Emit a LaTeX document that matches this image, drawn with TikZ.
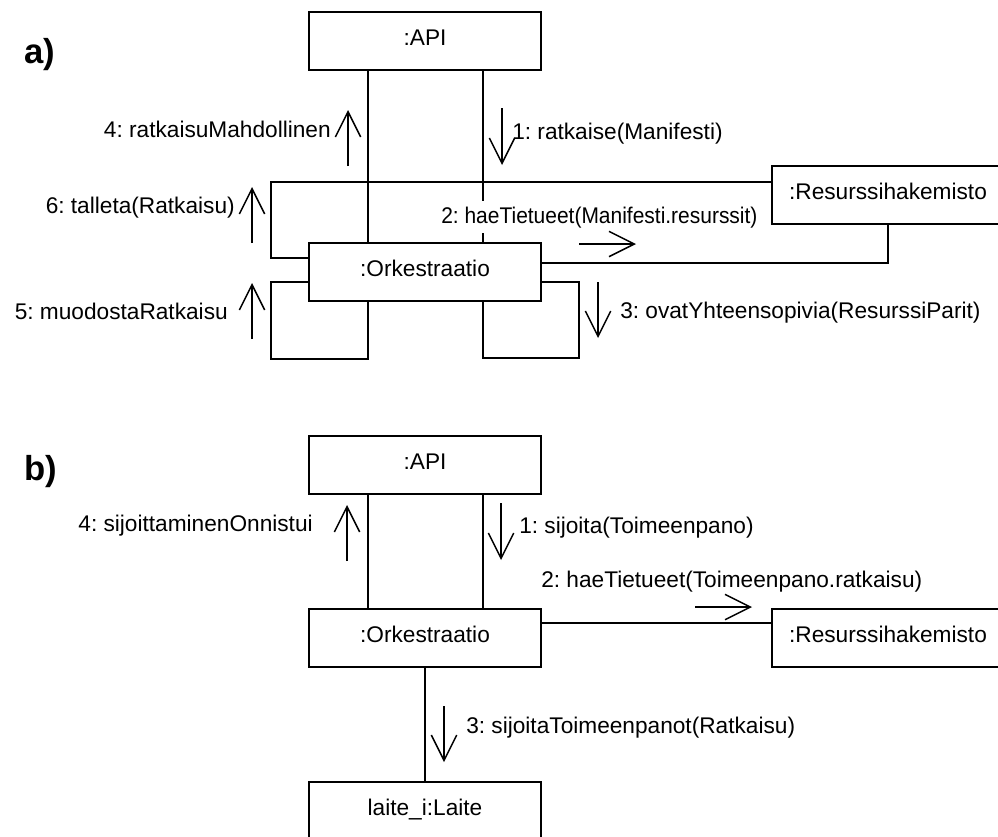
\documentclass[tikz,border=0pt]{standalone}
\usepackage{fontspec}
\usepackage{graphicx}
\setmainfont{Liberation Sans}
\usetikzlibrary{arrows.meta,calc}
\frenchspacing

\tikzset{
  obj/.style={draw, line width=1.5pt, minimum width=232*0.75pt, minimum height=58*0.75pt,
    inner sep=0pt, text height=0.72em, text depth=0pt, font=\fontsize{17}{20}\selectfont},
  link/.style={line width=1.5pt},
  msg/.style={line width=1.1pt, -{Straight Barb[length=19pt,width=19pt,line width=1.1pt]}},
  lbl/.style={inner sep=0pt, font=\fontsize{17}{20}\selectfont},
  part/.style={inner sep=0pt, font=\fontsize{26}{30}\selectfont\bfseries},
}

\begin{document}
\begin{tikzpicture}[x=0.75pt,y=-0.75pt]
\useasboundingbox (0,0) rectangle (998,836);
\clip (0,0) rectangle (998,836);

% ---------- a) solving ----------
\node[part, anchor=base west] (partA) at (24,63) {a)};

\node[obj] (apiA) at (425,41)  {:API};
\node[obj] (orkA) at (425,272) {:Orkestraatio};
\node[obj] (resA) at (888,195) {:Resurssihakemisto};

\coordinate (tlA) at (271,182);
\coordinate (blA) at (271,359);
\coordinate (brA) at (579,358);

% API <-> Orkestraatio
\draw[link] ($(apiA.south)+(-57,0)$) -- ($(orkA.north)+(-57,0)$);
\draw[link] ($(apiA.south)+(58,0)$)  -- ($(orkA.north)+(58,0)$);
% Orkestraatio <-> Resurssihakemisto
\draw[link] ($(orkA.west)+(0,-14)$) -| (tlA) -- ($(resA.west)+(0,-13)$);
\draw[link] ($(orkA.east)+(0,-9)$) -| (resA.south);
% self-calls of Orkestraatio
\draw[link] ($(orkA.west)+(0,10)$) -| (blA) -| ($(orkA.south)+(-57,0)$);
\draw[link] ($(orkA.south)+(58,0)$) |- (brA) |- ($(orkA.east)+(0,10)$);

% messages
\draw[msg] (348,166) -- (348,110);
\node[lbl, anchor=base east] (m4A) at (331,137) {4: ratkaisuMahdollinen};
\draw[msg] (502,108) -- (502,165);
\node[lbl, anchor=base west] (m1A) at (512,139) {1: ratkaise(Manifesti)};
\draw[msg] (252,243) -- (252,187);
\node[lbl, anchor=base east] (m6A) at (235,213) {6: talleta(Ratkaisu)};
\draw[msg] (252,339) -- (252,283);
\node[lbl, anchor=base east] (m5A) at (228,319) {5: muodostaRatkaisu};
\node[lbl, anchor=base west, fill=white, inner ysep=4pt] (m2A) at (441,223) {\scalebox{0.925}[1]{2: haeTietueet(Manifesti.resurssit)}};
\draw[msg] (579,244) -- (636,244);
\draw[msg] (598,282) -- (598,338);
\node[lbl, anchor=base west] (m3A) at (620,318) {3: ovatYhteensopivia(ResurssiParit)};

% ---------- b) deployment ----------
\node[part, anchor=base west] (partB) at (24,480) {b)};

\node[obj] (apiB)   at (425,464.5) {:API};
\node[obj] (orkB)   at (425,638)   {:Orkestraatio};
\node[obj] (resB)   at (888,638)   {:Resurssihakemisto};
\node[obj] (laiteB) at (425,811)   {laite\_i:Laite};

\draw[link] ($(apiB.south)+(-57,0)$) -- ($(orkB.north)+(-57,0)$);
\draw[link] ($(apiB.south)+(58,0)$)  -- ($(orkB.north)+(58,0)$);
\draw[link] ($(orkB.east)+(0,-15)$) -- ($(resB.west)+(0,-15)$);
\draw[link] (orkB.south) -- (laiteB.north);

\draw[msg] (347,561) -- (347,505);
\node[lbl, anchor=base east] (m4B) at (313,531) {4: sijoittaminenOnnistui};
\draw[msg] (501,503) -- (501,560);
\node[lbl, anchor=base west] (m1B) at (519,533) {1: sijoita(Toimeenpano)};
\node[lbl, anchor=base west] (m2B) at (541,587) {2: haeTietueet(Toimeenpano.ratkaisu)};
\draw[msg] (695,607) -- (752,607);
\draw[msg] (444,706) -- (444,762);
\node[lbl, anchor=base west] (m3B) at (466,733) {3: sijoitaToimeenpanot(Ratkaisu)};
\end{tikzpicture}
\end{document}
